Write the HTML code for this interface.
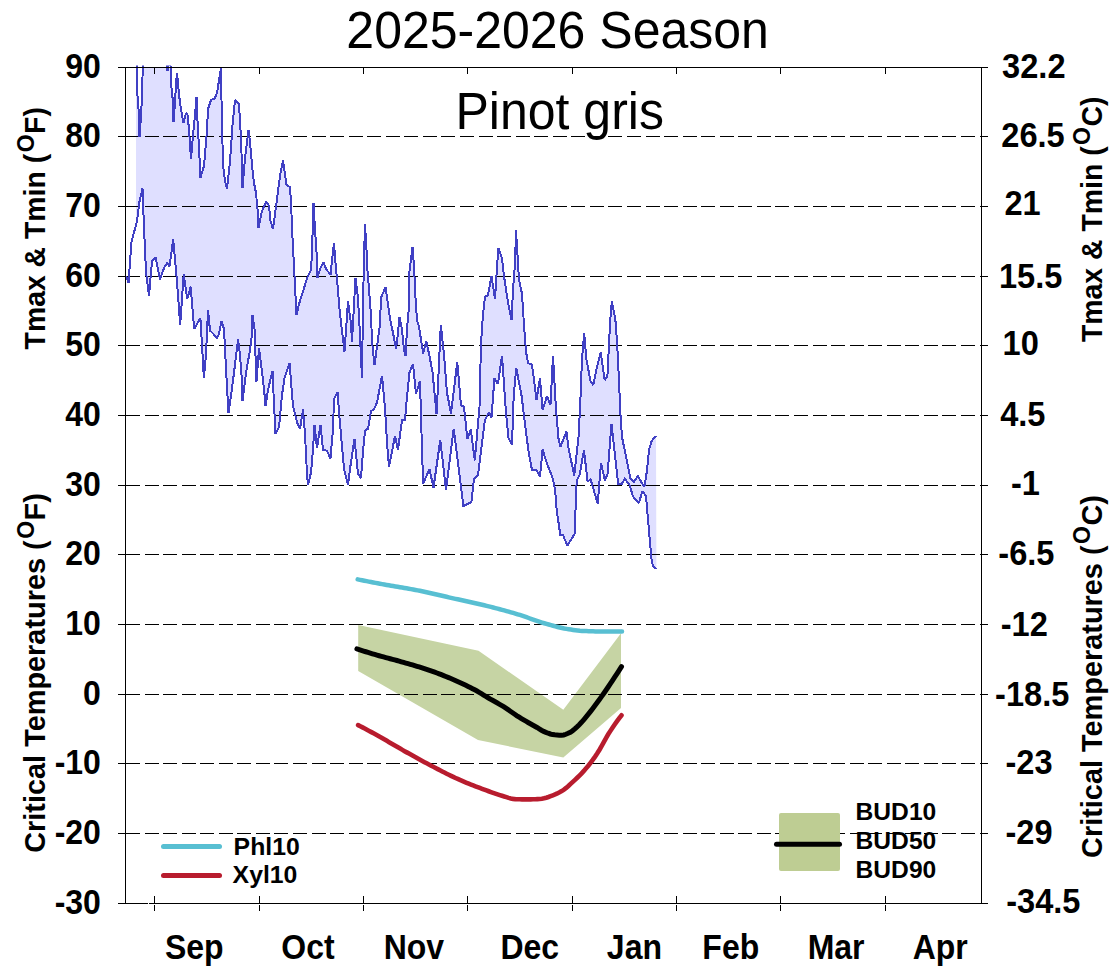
<!DOCTYPE html>
<html><head><meta charset="utf-8"><style>
html,body{margin:0;padding:0;background:#fff;}
svg{display:block;}
text{font-family:"Liberation Sans", sans-serif;}
</style></head><body>
<svg width="1112" height="970" viewBox="0 0 1112 970">
<defs><clipPath id="pc"><rect x="125" y="67" width="857" height="837"/></clipPath><clipPath id="pl"><rect x="125" y="65.5" width="857" height="838"/></clipPath></defs>
<rect x="0" y="0" width="1112" height="970" fill="#fff"/>

<polygon points="358.2,625 478.5,650.8 563.3,709.8 621,633.2 621,708 563.3,757.4 478,740.1 358.2,670.9" fill="#c6d4a4"/>
<g clip-path="url(#pc)"><polygon points="136,40 137.3,93 139,116 139.5,137 141,116 142,97 142.5,77 144,40 166,40 167.5,71 169,40 170.5,66 171.2,85 173.2,104 173.5,122 175,103 176,83 177,73 178.5,89 180,103 182,115 183.5,123 186,113 187.5,115 189,129 190,145 191,159 192.5,141 195,115 196.5,97 197.5,121 199,148 200.5,177.5 204,166 207,130 208,109 211,100 214.5,98.6 217,93 221,68 221.5,100 223,165 225,181 227,189 230,162 232.5,125 235,100 239,104 240.5,130 242,165 242.5,188 245,158 248.5,130 250,142 252,165 254,183 256,193 257.5,209 258.5,228 262,211 266,202 269,205.6 270.5,221 273,229 277,199 280,176 283,160.5 286.5,185 290,187 291,202.6 292.5,237.7 294.5,276 296.5,315 299,304 307.5,277 311,270 312,252 313.5,202.6 315,229 317,259 317.5,278 320,269 323.5,262 326,269 330.5,274.6 334,243 336,269 338,290 339,304 340.5,318 344.5,351.6 348,301 351,324 352,341.6 354,304.7 355.5,278.4 357.5,294 359,315 360.5,346.8 362,378 363,304.7 364,259 365,224 366.5,250 367.5,271 369,289 371,315 372,341.6 374.5,365 377,346.8 380,324 381,297.7 385.5,287 387.5,301 390,318.8 393,332.8 396,348.6 398,332.8 399.5,317 402,329.3 404,350 405.5,356 407,329.3 409,306.5 409.5,271 412.5,246.8 414,266 415.5,297.7 417,320.5 419,326.8 423.2,353.6 426.3,341 429.4,355.7 432.5,372 436.6,414.4 440.8,324.7 443.9,353.6 447,392.8 451,413.4 457.3,361.9 461,405.5 464,406.8 467.4,439 470.8,429.6 474.8,460.4 479.5,406.8 481,343 483,314.7 485,297 488,295 491.5,276 495,299 497,267 498.5,248 502,258.6 504,276 508,302.5 511.5,320 513,290 515,264 516,230.5 517.5,255 519,279.6 522,293.7 524,325 526,351.6 528,363 532,364.6 536.5,399.6 540,378.6 542.6,410 547,396 550.5,405 553,355.8 555.8,406.7 558.4,438 560.3,447 566.4,431.6 568.8,450 574.3,475.4 578.7,435 580.4,400 582,359 584.2,332.6 586.3,359 590.7,381.8 593.3,385 596.8,367.7 600.7,352 604.7,380 607.4,376.5 610,323.9 611.8,301 615.3,318.6 617,341.4 618.8,376.5 620.5,415 622,437 630.4,478 634,481.6 637.8,476 644.3,487 647,470.5 649,450 651.7,440.8 656,436 656.4,568.8 653.6,567 651.7,561.4 646,496.5 642.5,491 638.8,503 633,496.5 629.5,485 624.8,478.8 621.5,484.4 618.2,484 611.5,423.7 607.6,473.7 605,480.7 601,463 597.7,503.7 590.5,479 587.6,482 584,450 579.6,474.8 576.7,480.6 574.6,534 567.3,545.6 563,535 560.3,535 556.7,510 555,489 552.3,477 546,461 542.6,448.8 540,477 536.5,470 532,470 528.6,452 525,424 521.6,396 516.3,368 513.7,396 512,445 508.4,438 505.8,410 502,355.8 498,384 494.4,378.6 491.5,417.5 488.9,412 484.9,420 478,475 474,479 471.4,502 463.4,506 453.7,429 446,489.7 440.3,440 433.5,487.6 429.4,469 423.2,483.5 422.2,456.7 420,381 416,393.7 413,363.9 409.5,372.6 406.5,402.5 405,420 402,420 398,449.8 395,435.8 389,467 387,442.8 385,407.7 382,376 377,402.5 374,409.5 371,411 368,428.8 365,430.5 363,451.6 361,478 358,474 354.5,439 350,469 348,485 344,469 342,446 339.5,418 337.5,392 334,399 333,428.8 330.5,458.6 327,450.7 323,449.8 320.5,425 317,448 314.5,425 313,449.8 311,472.6 308,485 307,474 305,434 303,409.5 300,428.8 297.5,423.5 293,406 289.5,363 284.5,378 282,395 279,427 275.5,434 274,404 272.5,371 268,390 265.5,406 264,388.6 261,364 259,348 256.5,381.6 256,369 254.5,329 252.5,315 252,334 250,350 246,372.8 242.5,401 242,381.6 240,355 238,339.5 234,372.8 231,395.6 228.5,413 226,369 224,329 221.5,321 219,334 217,337.7 212,332.5 210,330.7 208,309.6 206,355 203.9,378 200.4,318 194.2,328.8 190.7,286.7 187.2,299 183.7,274.4 180.2,325 176.7,278 173.2,239.3 169.5,266.5 167,263 164,268 160,279.6 155.5,257 152,261 149,296 146,272 144,228 142.5,188.4 139.5,201.6 137,221 136,224.818" fill="#dfdfff"/></g>
<g stroke="#000" stroke-width="1" stroke-dasharray="14 4.556" shape-rendering="crispEdges">
<line x1="126" y1="136.5" x2="981" y2="136.5"/>
<line x1="126" y1="206.5" x2="981" y2="206.5"/>
<line x1="126" y1="276.5" x2="981" y2="276.5"/>
<line x1="126" y1="345.5" x2="981" y2="345.5"/>
<line x1="126" y1="415.5" x2="981" y2="415.5"/>
<line x1="126" y1="485.5" x2="981" y2="485.5"/>
<line x1="126" y1="554.5" x2="981" y2="554.5"/>
<line x1="126" y1="624.5" x2="981" y2="624.5"/>
<line x1="126" y1="694.5" x2="981" y2="694.5"/>
<line x1="126" y1="763.5" x2="981" y2="763.5"/>
<line x1="126" y1="833.5" x2="981" y2="833.5"/>
</g>
<g clip-path="url(#pl)" fill="none" stroke="#4040c4" stroke-width="2" stroke-linejoin="miter" stroke-miterlimit="2" shape-rendering="crispEdges">
<polyline points="136,40 137.3,93 139,116 139.5,137 141,116 142,97 142.5,77 144,40 166,40 167.5,71 169,40 170.5,66 171.2,85 173.2,104 173.5,122 175,103 176,83 177,73 178.5,89 180,103 182,115 183.5,123 186,113 187.5,115 189,129 190,145 191,159 192.5,141 195,115 196.5,97 197.5,121 199,148 200.5,177.5 204,166 207,130 208,109 211,100 214.5,98.6 217,93 221,68 221.5,100 223,165 225,181 227,189 230,162 232.5,125 235,100 239,104 240.5,130 242,165 242.5,188 245,158 248.5,130 250,142 252,165 254,183 256,193 257.5,209 258.5,228 262,211 266,202 269,205.6 270.5,221 273,229 277,199 280,176 283,160.5 286.5,185 290,187 291,202.6 292.5,237.7 294.5,276 296.5,315 299,304 307.5,277 311,270 312,252 313.5,202.6 315,229 317,259 317.5,278 320,269 323.5,262 326,269 330.5,274.6 334,243 336,269 338,290 339,304 340.5,318 344.5,351.6 348,301 351,324 352,341.6 354,304.7 355.5,278.4 357.5,294 359,315 360.5,346.8 362,378 363,304.7 364,259 365,224 366.5,250 367.5,271 369,289 371,315 372,341.6 374.5,365 377,346.8 380,324 381,297.7 385.5,287 387.5,301 390,318.8 393,332.8 396,348.6 398,332.8 399.5,317 402,329.3 404,350 405.5,356 407,329.3 409,306.5 409.5,271 412.5,246.8 414,266 415.5,297.7 417,320.5 419,326.8 423.2,353.6 426.3,341 429.4,355.7 432.5,372 436.6,414.4 440.8,324.7 443.9,353.6 447,392.8 451,413.4 457.3,361.9 461,405.5 464,406.8 467.4,439 470.8,429.6 474.8,460.4 479.5,406.8 481,343 483,314.7 485,297 488,295 491.5,276 495,299 497,267 498.5,248 502,258.6 504,276 508,302.5 511.5,320 513,290 515,264 516,230.5 517.5,255 519,279.6 522,293.7 524,325 526,351.6 528,363 532,364.6 536.5,399.6 540,378.6 542.6,410 547,396 550.5,405 553,355.8 555.8,406.7 558.4,438 560.3,447 566.4,431.6 568.8,450 574.3,475.4 578.7,435 580.4,400 582,359 584.2,332.6 586.3,359 590.7,381.8 593.3,385 596.8,367.7 600.7,352 604.7,380 607.4,376.5 610,323.9 611.8,301 615.3,318.6 617,341.4 618.8,376.5 620.5,415 622,437 630.4,478 634,481.6 637.8,476 644.3,487 647,470.5 649,450 651.7,440.8 656,436"/>
<polyline points="126,276 128.5,283 131.5,242 137,221 139.5,201.6 142.5,188.4 144,228 146,272 149,296 152,261 155.5,257 160,279.6 164,268 167,263 169.5,266.5 173.2,239.3 176.7,278 180.2,325 183.7,274.4 187.2,299 190.7,286.7 194.2,328.8 200.4,318 203.9,378 206,355 208,309.6 210,330.7 212,332.5 217,337.7 219,334 221.5,321 224,329 226,369 228.5,413 231,395.6 234,372.8 238,339.5 240,355 242,381.6 242.5,401 246,372.8 250,350 252,334 252.5,315 254.5,329 256,369 256.5,381.6 259,348 261,364 264,388.6 265.5,406 268,390 272.5,371 274,404 275.5,434 279,427 282,395 284.5,378 289.5,363 293,406 297.5,423.5 300,428.8 303,409.5 305,434 307,474 308,485 311,472.6 313,449.8 314.5,425 317,448 320.5,425 323,449.8 327,450.7 330.5,458.6 333,428.8 334,399 337.5,392 339.5,418 342,446 344,469 348,485 350,469 354.5,439 358,474 361,478 363,451.6 365,430.5 368,428.8 371,411 374,409.5 377,402.5 382,376 385,407.7 387,442.8 389,467 395,435.8 398,449.8 402,420 405,420 406.5,402.5 409.5,372.6 413,363.9 416,393.7 420,381 422.2,456.7 423.2,483.5 429.4,469 433.5,487.6 440.3,440 446,489.7 453.7,429 463.4,506 471.4,502 474,479 478,475 484.9,420 488.9,412 491.5,417.5 494.4,378.6 498,384 502,355.8 505.8,410 508.4,438 512,445 513.7,396 516.3,368 521.6,396 525,424 528.6,452 532,470 536.5,470 540,477 542.6,448.8 546,461 552.3,477 555,489 556.7,510 560.3,535 563,535 567.3,545.6 574.6,534 576.7,480.6 579.6,474.8 584,450 587.6,482 590.5,479 597.7,503.7 601,463 605,480.7 607.6,473.7 611.5,423.7 618.2,484 621.5,484.4 624.8,478.8 629.5,485 633,496.5 638.8,503 642.5,491 646,496.5 651.7,561.4 653.6,567 656.4,568.8"/>
</g>
<path d="M357.70,579.40 L359.92,579.84 L362.14,580.28 L364.36,580.72 L366.58,581.16 L368.81,581.59 L371.03,582.02 L373.25,582.44 L375.47,582.87 L377.69,583.29 L379.91,583.70 L382.13,584.12 L384.35,584.53 L386.57,584.93 L388.79,585.32 L391.02,585.71 L393.24,586.09 L395.46,586.46 L397.68,586.84 L399.90,587.21 L402.12,587.58 L404.34,587.96 L406.56,588.34 L408.78,588.72 L411.00,589.11 L413.23,589.52 L415.45,589.93 L417.67,590.36 L419.89,590.80 L422.11,591.25 L424.33,591.72 L426.55,592.20 L428.77,592.69 L430.99,593.19 L433.21,593.70 L435.44,594.22 L437.66,594.73 L439.88,595.25 L442.10,595.77 L444.32,596.29 L446.54,596.81 L448.76,597.33 L450.98,597.83 L453.20,598.34 L455.42,598.83 L457.65,599.32 L459.87,599.81 L462.09,600.29 L464.31,600.78 L466.53,601.26 L468.75,601.74 L470.97,602.23 L473.19,602.72 L475.41,603.22 L477.63,603.72 L479.86,604.24 L482.08,604.76 L484.30,605.29 L486.52,605.83 L488.74,606.38 L490.96,606.94 L493.18,607.51 L495.40,608.08 L497.62,608.66 L499.84,609.24 L502.07,609.84 L504.29,610.44 L506.51,611.06 L508.73,611.68 L510.95,612.31 L513.17,612.96 L515.39,613.62 L517.61,614.29 L519.83,614.97 L522.05,615.67 L524.28,616.42 L526.50,617.20 L528.72,618.01 L530.94,618.83 L533.16,619.64 L535.38,620.42 L537.60,621.17 L539.82,621.88 L542.04,622.57 L544.26,623.23 L546.49,623.88 L548.71,624.50 L550.93,625.12 L553.15,625.74 L555.37,626.36 L557.59,626.96 L559.81,627.52 L562.03,628.03 L564.25,628.49 L566.47,628.88 L568.70,629.24 L570.92,629.59 L573.14,629.91 L575.36,630.21 L577.58,630.48 L579.80,630.71 L582.02,630.89 L584.24,631.01 L586.46,631.11 L588.68,631.20 L590.91,631.28 L593.13,631.36 L595.35,631.42 L597.57,631.46 L599.79,631.49 L602.01,631.50 L604.23,631.50 L606.45,631.50 L608.67,631.50 L610.89,631.50 L613.12,631.50 L615.34,631.50 L617.56,631.50 L619.78,631.50 L622.00,631.50" fill="none" stroke="#58bfd2" stroke-width="4.5" stroke-linecap="round"/>
<path d="M358.10,725.10 L360.31,726.25 L362.53,727.40 L364.74,728.57 L366.95,729.74 L369.17,730.93 L371.38,732.12 L373.59,733.33 L375.81,734.54 L378.02,735.77 L380.23,737.01 L382.45,738.28 L384.66,739.56 L386.87,740.85 L389.09,742.14 L391.30,743.44 L393.52,744.74 L395.73,746.04 L397.94,747.33 L400.16,748.61 L402.37,749.88 L404.58,751.13 L406.80,752.37 L409.01,753.61 L411.22,754.85 L413.44,756.08 L415.65,757.31 L417.86,758.53 L420.08,759.75 L422.29,760.95 L424.50,762.15 L426.72,763.34 L428.93,764.51 L431.14,765.68 L433.36,766.83 L435.57,767.99 L437.78,769.15 L440.00,770.30 L442.21,771.44 L444.42,772.58 L446.64,773.69 L448.85,774.79 L451.06,775.88 L453.28,776.93 L455.49,777.97 L457.71,778.97 L459.92,779.94 L462.13,780.90 L464.35,781.84 L466.56,782.76 L468.77,783.66 L470.99,784.55 L473.20,785.42 L475.41,786.28 L477.63,787.13 L479.84,787.97 L482.05,788.81 L484.27,789.63 L486.48,790.45 L488.69,791.27 L490.91,792.09 L493.12,792.89 L495.33,793.68 L497.55,794.43 L499.76,795.15 L501.97,795.82 L504.19,796.47 L506.40,797.17 L508.61,797.85 L510.83,798.44 L513.04,798.88 L515.25,799.10 L517.47,799.19 L519.68,799.27 L521.89,799.33 L524.11,799.37 L526.32,799.40 L528.54,799.40 L530.75,799.37 L532.96,799.30 L535.18,799.21 L537.39,799.09 L539.60,798.95 L541.82,798.75 L544.03,798.32 L546.24,797.71 L548.46,796.98 L550.67,796.17 L552.88,795.34 L555.10,794.47 L557.31,793.47 L559.52,792.34 L561.74,791.08 L563.95,789.66 L566.16,787.93 L568.38,785.97 L570.59,783.91 L572.80,781.87 L575.02,779.83 L577.23,777.73 L579.44,775.56 L581.66,773.29 L583.87,770.90 L586.08,768.37 L588.30,765.70 L590.51,762.88 L592.73,759.92 L594.94,756.82 L597.15,753.57 L599.37,750.00 L601.58,746.11 L603.79,742.07 L606.01,738.08 L608.22,734.32 L610.43,730.87 L612.65,727.53 L614.86,724.30 L617.07,721.17 L619.29,718.17 L621.50,715.30" fill="none" stroke="#b81c2e" stroke-width="4.6" stroke-linecap="round"/>
<path d="M356.90,648.90 L359.12,649.62 L361.35,650.34 L363.57,651.05 L365.79,651.75 L368.02,652.44 L370.24,653.12 L372.46,653.79 L374.69,654.45 L376.91,655.10 L379.14,655.72 L381.36,656.34 L383.58,656.94 L385.81,657.54 L388.03,658.13 L390.25,658.73 L392.48,659.32 L394.70,659.92 L396.92,660.53 L399.15,661.15 L401.37,661.78 L403.59,662.41 L405.82,663.04 L408.04,663.67 L410.26,664.31 L412.49,664.95 L414.71,665.60 L416.94,666.27 L419.16,666.94 L421.38,667.64 L423.61,668.35 L425.83,669.08 L428.05,669.83 L430.28,670.59 L432.50,671.38 L434.72,672.18 L436.95,673.00 L439.17,673.84 L441.39,674.69 L443.62,675.57 L445.84,676.46 L448.06,677.36 L450.29,678.29 L452.51,679.23 L454.74,680.19 L456.96,681.17 L459.18,682.17 L461.41,683.19 L463.63,684.24 L465.85,685.31 L468.08,686.40 L470.30,687.52 L472.52,688.66 L474.75,689.83 L476.97,691.03 L479.19,692.31 L481.42,693.66 L483.64,695.04 L485.86,696.41 L488.09,697.76 L490.31,699.05 L492.54,700.30 L494.76,701.54 L496.98,702.78 L499.21,704.05 L501.43,705.35 L503.65,706.71 L505.88,708.15 L508.10,709.65 L510.32,711.20 L512.55,712.75 L514.77,714.29 L516.99,715.79 L519.22,717.22 L521.44,718.59 L523.66,719.91 L525.89,721.19 L528.11,722.46 L530.34,723.71 L532.56,724.95 L534.78,726.21 L537.01,727.49 L539.23,728.86 L541.45,730.22 L543.68,731.42 L545.90,732.36 L548.12,733.22 L550.35,733.98 L552.57,734.55 L554.79,734.84 L557.02,735.02 L559.24,735.15 L561.46,735.20 L563.69,734.96 L565.91,734.27 L568.14,733.33 L570.36,732.25 L572.58,730.72 L574.81,728.85 L577.03,726.83 L579.25,724.71 L581.48,722.33 L583.70,719.77 L585.92,717.13 L588.15,714.44 L590.37,711.64 L592.59,708.74 L594.82,705.78 L597.04,702.80 L599.26,699.75 L601.49,696.64 L603.71,693.48 L605.94,690.28 L608.16,687.01 L610.38,683.69 L612.61,680.33 L614.83,676.95 L617.05,673.54 L619.28,670.09 L621.50,666.60" fill="none" stroke="#000" stroke-width="5" stroke-linecap="round"/>
<g stroke="#000" stroke-width="1" shape-rendering="crispEdges" fill="none">
<line x1="118" y1="67.5" x2="988" y2="67.5"/>
<line x1="118" y1="903.5" x2="988" y2="903.5"/>
<line x1="125.5" y1="67" x2="125.5" y2="904"/>
<line x1="981.5" y1="67" x2="981.5" y2="904"/>
<line x1="118" y1="136.5" x2="126" y2="136.5"/>
<line x1="980" y1="136.5" x2="988" y2="136.5"/>
<line x1="118" y1="206.5" x2="126" y2="206.5"/>
<line x1="980" y1="206.5" x2="988" y2="206.5"/>
<line x1="118" y1="276.5" x2="126" y2="276.5"/>
<line x1="980" y1="276.5" x2="988" y2="276.5"/>
<line x1="118" y1="345.5" x2="126" y2="345.5"/>
<line x1="980" y1="345.5" x2="988" y2="345.5"/>
<line x1="118" y1="415.5" x2="126" y2="415.5"/>
<line x1="980" y1="415.5" x2="988" y2="415.5"/>
<line x1="118" y1="485.5" x2="126" y2="485.5"/>
<line x1="980" y1="485.5" x2="988" y2="485.5"/>
<line x1="118" y1="554.5" x2="126" y2="554.5"/>
<line x1="980" y1="554.5" x2="988" y2="554.5"/>
<line x1="118" y1="624.5" x2="126" y2="624.5"/>
<line x1="980" y1="624.5" x2="988" y2="624.5"/>
<line x1="118" y1="694.5" x2="126" y2="694.5"/>
<line x1="980" y1="694.5" x2="988" y2="694.5"/>
<line x1="118" y1="763.5" x2="126" y2="763.5"/>
<line x1="980" y1="763.5" x2="988" y2="763.5"/>
<line x1="118" y1="833.5" x2="126" y2="833.5"/>
<line x1="980" y1="833.5" x2="988" y2="833.5"/>
<line x1="154.5" y1="67" x2="154.5" y2="74"/>
<line x1="154.5" y1="896" x2="154.5" y2="904"/>
<line x1="154.5" y1="905" x2="154.5" y2="911"/>
<line x1="259.5" y1="67" x2="259.5" y2="74"/>
<line x1="259.5" y1="896" x2="259.5" y2="904"/>
<line x1="259.5" y1="905" x2="259.5" y2="911"/>
<line x1="363.5" y1="67" x2="363.5" y2="74"/>
<line x1="363.5" y1="896" x2="363.5" y2="904"/>
<line x1="363.5" y1="905" x2="363.5" y2="911"/>
<line x1="467.5" y1="67" x2="467.5" y2="74"/>
<line x1="467.5" y1="896" x2="467.5" y2="904"/>
<line x1="467.5" y1="905" x2="467.5" y2="911"/>
<line x1="572.5" y1="67" x2="572.5" y2="74"/>
<line x1="572.5" y1="896" x2="572.5" y2="904"/>
<line x1="572.5" y1="905" x2="572.5" y2="911"/>
<line x1="676.5" y1="67" x2="676.5" y2="74"/>
<line x1="676.5" y1="896" x2="676.5" y2="904"/>
<line x1="676.5" y1="905" x2="676.5" y2="911"/>
<line x1="780.5" y1="67" x2="780.5" y2="74"/>
<line x1="780.5" y1="896" x2="780.5" y2="904"/>
<line x1="780.5" y1="905" x2="780.5" y2="911"/>
<line x1="885.5" y1="67" x2="885.5" y2="74"/>
<line x1="885.5" y1="896" x2="885.5" y2="904"/>
<line x1="885.5" y1="905" x2="885.5" y2="911"/>
<rect x="148" y="903" width="1" height="1" fill="#fff" stroke="none"/>
</g>
<line x1="163.5" y1="846.6" x2="219.5" y2="846.6" stroke="#58bfd2" stroke-width="5" stroke-linecap="round"/>
<line x1="163.5" y1="875.4" x2="219.5" y2="875.4" stroke="#b81c2e" stroke-width="5" stroke-linecap="round"/>
<rect x="779" y="813" width="61" height="58" rx="2" fill="#becd93"/>
<line x1="776.5" y1="844.3" x2="839.5" y2="844.3" stroke="#000" stroke-width="5" stroke-linecap="round"/>
<text transform="translate(557.6,47.9) scale(1,1.04)" font-size="50" font-weight="normal" text-anchor="middle">2025-2026 Season</text>
<text transform="translate(559.7,128.6) scale(1,1.04)" font-size="50" font-weight="normal" text-anchor="middle">Pinot gris</text>
<text transform="translate(100.9,77.9) scale(1,1.1)" font-size="32" font-weight="bold" text-anchor="end">90</text>
<text transform="translate(100.9,146.9) scale(1,1.1)" font-size="32" font-weight="bold" text-anchor="end">80</text>
<text transform="translate(100.9,216.9) scale(1,1.1)" font-size="32" font-weight="bold" text-anchor="end">70</text>
<text transform="translate(100.9,286.9) scale(1,1.1)" font-size="32" font-weight="bold" text-anchor="end">60</text>
<text transform="translate(100.9,355.9) scale(1,1.1)" font-size="32" font-weight="bold" text-anchor="end">50</text>
<text transform="translate(100.9,425.9) scale(1,1.1)" font-size="32" font-weight="bold" text-anchor="end">40</text>
<text transform="translate(100.9,495.9) scale(1,1.1)" font-size="32" font-weight="bold" text-anchor="end">30</text>
<text transform="translate(100.9,564.9) scale(1,1.1)" font-size="32" font-weight="bold" text-anchor="end">20</text>
<text transform="translate(100.9,634.9) scale(1,1.1)" font-size="32" font-weight="bold" text-anchor="end">10</text>
<text transform="translate(100.9,704.9) scale(1,1.1)" font-size="32" font-weight="bold" text-anchor="end">0</text>
<text transform="translate(100.9,773.9) scale(1,1.1)" font-size="32" font-weight="bold" text-anchor="end">-10</text>
<text transform="translate(100.9,843.9) scale(1,1.1)" font-size="32" font-weight="bold" text-anchor="end">-20</text>
<text transform="translate(100.9,913.9) scale(1,1.1)" font-size="32" font-weight="bold" text-anchor="end">-30</text>
<text transform="translate(1002.1,78) scale(1,1.08)" font-size="32.6" font-weight="bold" text-anchor="start">32.2</text>
<text transform="translate(1001.3,147) scale(1,1.08)" font-size="32.6" font-weight="bold" text-anchor="start">26.5</text>
<text transform="translate(1004.5,214.9) scale(1,1.08)" font-size="32.6" font-weight="bold" text-anchor="start">21</text>
<text transform="translate(998.9,288.2) scale(1,1.08)" font-size="32.6" font-weight="bold" text-anchor="start">15.5</text>
<text transform="translate(1002.6,355) scale(1,1.08)" font-size="32.6" font-weight="bold" text-anchor="start">10</text>
<text transform="translate(1000.2,425.5) scale(1,1.08)" font-size="32.6" font-weight="bold" text-anchor="start">4.5</text>
<text transform="translate(1011,495.1) scale(1,1.08)" font-size="32.6" font-weight="bold" text-anchor="start">-1</text>
<text transform="translate(998.3,565) scale(1,1.08)" font-size="32.6" font-weight="bold" text-anchor="start">-6.5</text>
<text transform="translate(1000.7,636.1) scale(1,1.08)" font-size="32.6" font-weight="bold" text-anchor="start">-12</text>
<text transform="translate(995.1,705.5) scale(1,1.08)" font-size="32.6" font-weight="bold" text-anchor="start">-18.5</text>
<text transform="translate(1005.5,774.1) scale(1,1.08)" font-size="32.6" font-weight="bold" text-anchor="start">-23</text>
<text transform="translate(1005.5,843.7) scale(1,1.08)" font-size="32.6" font-weight="bold" text-anchor="start">-29</text>
<text transform="translate(1006.2,912.5) scale(1,1.08)" font-size="32.6" font-weight="bold" text-anchor="start">-34.5</text>
<text transform="translate(194.3,958.6) scale(1,1.1)" font-size="32" font-weight="bold" text-anchor="middle">Sep</text>
<text transform="translate(308,958.6) scale(1,1.1)" font-size="32" font-weight="bold" text-anchor="middle">Oct</text>
<text transform="translate(413.9,958.6) scale(1,1.1)" font-size="32" font-weight="bold" text-anchor="middle">Nov</text>
<text transform="translate(529.8,958.6) scale(1,1.1)" font-size="32" font-weight="bold" text-anchor="middle">Dec</text>
<text transform="translate(634.4,958.6) scale(1,1.1)" font-size="32" font-weight="bold" text-anchor="middle">Jan</text>
<text transform="translate(730.8,958.6) scale(1,1.1)" font-size="32" font-weight="bold" text-anchor="middle">Feb</text>
<text transform="translate(836.1,958.6) scale(1,1.1)" font-size="32" font-weight="bold" text-anchor="middle">Mar</text>
<text transform="translate(940.2,958.6) scale(1,1.1)" font-size="32" font-weight="bold" text-anchor="middle">Apr</text>
<text transform="translate(45,228.3) rotate(-90) scale(1,1.04)" font-size="28.4" font-weight="bold" text-anchor="middle">Tmax &amp; Tmin (<tspan font-size="23" dx="1.5" dy="-11">O</tspan><tspan dy="11" dx="0.5">F)</tspan></text>
<text transform="translate(45,673) rotate(-90) scale(1,1.04)" font-size="28.9" font-weight="bold" text-anchor="middle">Critical Temperatures (<tspan font-size="23" dx="1.5" dy="-11">O</tspan><tspan dy="11" dx="0.5">F)</tspan></text>
<text transform="translate(1101.7,219.3) rotate(-90) scale(1,1.04)" font-size="28.4" font-weight="bold" text-anchor="middle">Tmax &amp; Tmin (<tspan font-size="23" dx="1.5" dy="-11">O</tspan><tspan dy="11" dx="0.5">C)</tspan></text>
<text transform="translate(1101.7,676.5) rotate(-90) scale(1,1.04)" font-size="28.9" font-weight="bold" text-anchor="middle">Critical Temperatures (<tspan font-size="23" dx="1.5" dy="-11">O</tspan><tspan dy="11" dx="0.5">C)</tspan></text>
<text transform="translate(233.6,855) scale(1,0.99)" font-size="24.8" font-weight="bold" text-anchor="start">Phl10</text>
<text transform="translate(232.6,883.3) scale(1,0.98)" font-size="24.8" font-weight="bold" text-anchor="start">Xyl10</text>
<text transform="translate(855.6,819.6) scale(1,1.0)" font-size="24.6" font-weight="bold" text-anchor="start">BUD10</text>
<text transform="translate(855.6,848.5) scale(1,1.0)" font-size="24.6" font-weight="bold" text-anchor="start">BUD50</text>
<text transform="translate(855.6,877.7) scale(1,1.0)" font-size="24.6" font-weight="bold" text-anchor="start">BUD90</text>
</svg></body></html>
